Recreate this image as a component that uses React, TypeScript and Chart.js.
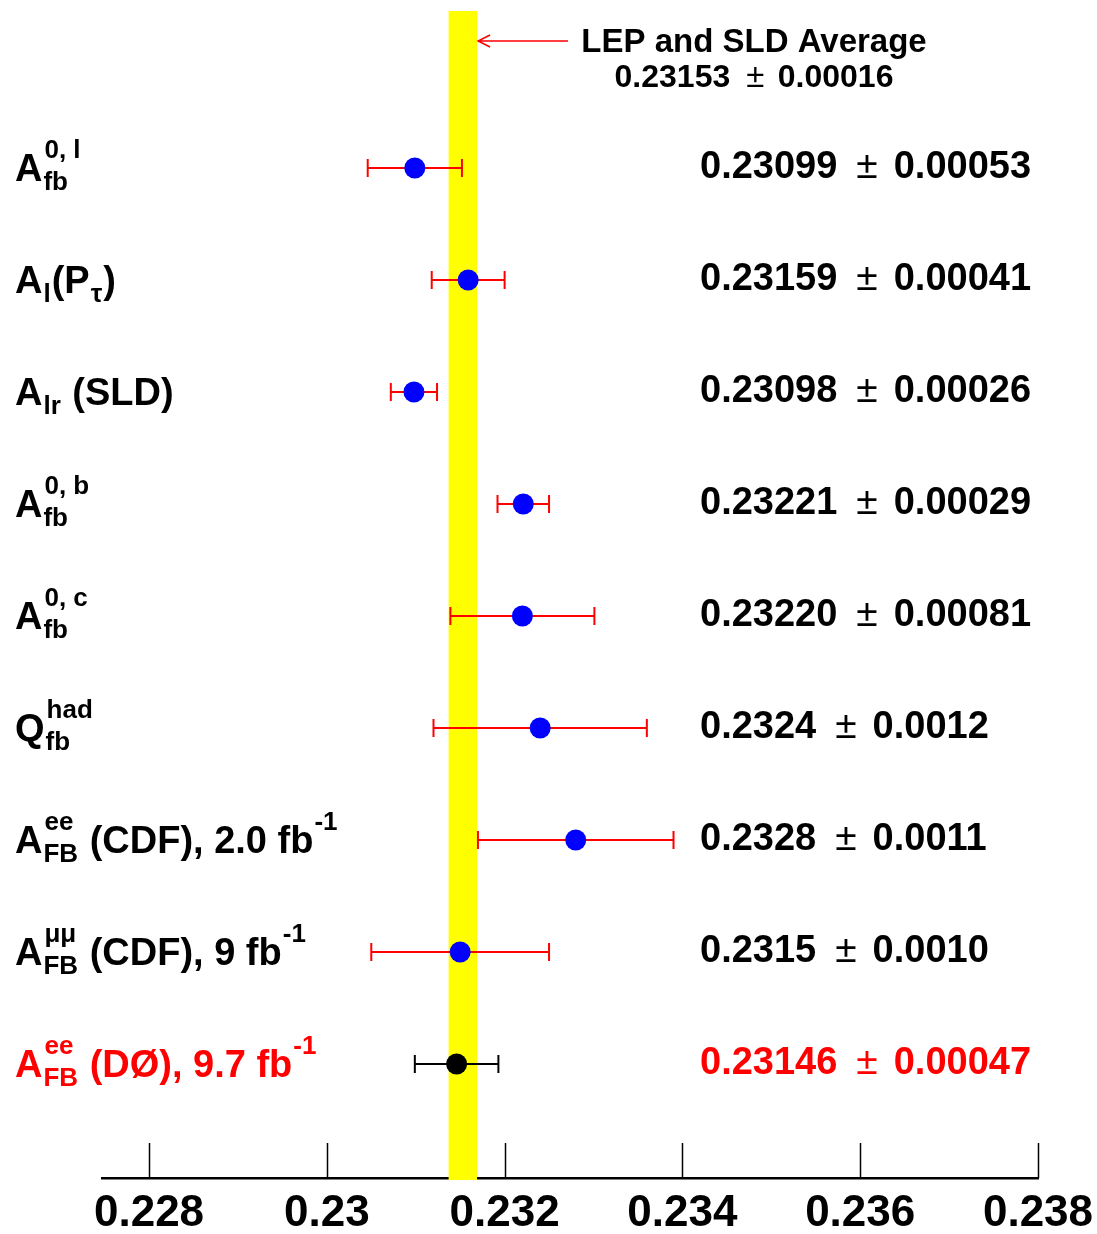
import React, { useEffect, useRef } from "react";
import { Chart, registerables } from "chart.js";

Chart.register(...registerables);

// ---------------- data ----------------
const MEASUREMENT_IDS = ["Afb0l", "Altau", "Alr", "Afb0b", "Afb0c", "Qfbhad", "AFBeeCDF", "AFBmumuCDF", "AFBeeD0"];
const CENTRAL_VALUES = [0.23099, 0.23159, 0.23098, 0.23221, 0.2322, 0.2324, 0.2328, 0.2315, 0.23146];
const ERROR_VALUES = [0.00053, 0.00041, 0.00026, 0.00029, 0.00081, 0.0012, 0.0011, 0.001, 0.00047];
const VALUE_TEXTS = ["0.23099", "0.23159", "0.23098", "0.23221", "0.23220", "0.2324", "0.2328", "0.2315", "0.23146"];
const ERROR_TEXTS = ["0.00053", "0.00041", "0.00026", "0.00029", "0.00081", "0.0012", "0.0011", "0.0010", "0.00047"];
const HIGHLIGHTED = [false, false, false, false, false, false, false, false, true];

type Seg = [string, "n" | "sub" | "sup"];
const LABEL_SEGMENTS: Seg[][] = [
  [["A", "n"], ["fb", "sub"], ["0, l", "sup"]],
  [["A", "n"], ["l", "sub"], ["(P", "n"], ["τ", "sub"], [")", "n"]],
  [["A", "n"], ["lr", "sub"], [" (SLD)", "n"]],
  [["A", "n"], ["fb", "sub"], ["0, b", "sup"]],
  [["A", "n"], ["fb", "sub"], ["0, c", "sup"]],
  [["Q", "n"], ["fb", "sub"], ["had", "sup"]],
  [["A", "n"], ["FB", "sub"], ["ee", "sup"], [" (CDF), 2.0 fb", "n"], ["-1", "sup"]],
  [["A", "n"], ["FB", "sub"], ["μμ", "sup"], [" (CDF), 9 fb", "n"], ["-1", "sup"]],
  [["A", "n"], ["FB", "sub"], ["ee", "sup"], [" (DØ), 9.7 fb", "n"], ["-1", "sup"]],
];

const AVERAGE_VALUE = 0.23153;
const AVERAGE_ERROR = 0.00016;
const AVERAGE_TITLE = "LEP and SLD Average";
const AVERAGE_VALUE_TEXT = "0.23153";
const AVERAGE_ERROR_TEXT = "0.00016";

const X_TICKS = [0.228, 0.23, 0.232, 0.234, 0.236, 0.238];
const X_TICK_LABELS = ["0.228", "0.23", "0.232", "0.234", "0.236", "0.238"];
const X_MIN = 0.227471;
const X_MAX = 0.238;

// ---------------- styling ----------------
const FONT = '"Liberation Sans", Arial, sans-serif';
const RED = "#ff0000";
const BLUE = "#0000ff";
const BLACK = "#000000";
const YELLOW = "#ffff00";

function drawRich(ctx: CanvasRenderingContext2D, segs: Seg[], x0: number, base: number, color: string) {
  const nFont = `bold 38px ${FONT}`;
  const subFont = `bold 26px ${FONT}`;
  const supFont = `bold 26px ${FONT}`;
  ctx.fillStyle = color;
  ctx.textAlign = "left";
  ctx.textBaseline = "alphabetic";
  let x = x0;
  for (let k = 0; k < segs.length; k++) {
    const [t, kind] = segs[k];
    if (kind === "n") {
      ctx.font = nFont;
      ctx.fillText(t, x, base);
      x += ctx.measureText(t).width;
    } else if (kind === "sub") {
      ctx.font = subFont;
      ctx.fillText(t, x + 1, base + 9);
      let w = ctx.measureText(t).width + 1;
      if (k + 1 < segs.length && segs[k + 1][1] === "sup") {
        const s = segs[k + 1][0];
        ctx.font = supFont;
        ctx.fillText(s, x + 2, base - 23);
        w = Math.max(w, ctx.measureText(s).width + 2);
        k++;
      }
      x += w + 1;
    } else {
      ctx.font = supFont;
      ctx.fillText(t, x + 1, base - 23);
      x += ctx.measureText(t).width + 2;
    }
  }
}

function drawValue(ctx: CanvasRenderingContext2D, v: string, e: string, x0: number, base: number, color: string, size: number, centered: boolean) {
  const bold = `bold ${size}px ${FONT}`;
  const norm = `${size + 1}px ${FONT}`;
  ctx.fillStyle = color;
  ctx.textBaseline = "alphabetic";
  ctx.textAlign = "left";
  ctx.font = bold;
  const wv = ctx.measureText(v).width;
  const we = ctx.measureText(e).width;
  ctx.font = norm;
  const wp = ctx.measureText("±").width;
  const g1 = size * 0.5;
  const g2 = size * 0.42;
  const total = wv + g1 + wp + g2 + we;
  let x = centered ? x0 - total / 2 : x0;
  ctx.font = bold;
  ctx.fillText(v, x, base);
  x += wv + g1;
  ctx.font = norm;
  ctx.fillText("±", x, base);
  x += wp + g2;
  ctx.font = bold;
  ctx.fillText(e, x, base);
}

const overlayPlugin = {
  id: "overlay",
  beforeDatasetsDraw(chart: any) {
    const { ctx, chartArea, scales } = chart;
    const x = scales.x;
    ctx.save();
    // upward tick marks
    ctx.strokeStyle = BLACK;
    ctx.lineWidth = 1.5;
    x.ticks.forEach((t: any) => {
      const px = Math.round(x.getPixelForValue(t.value)) + 0.5;
      ctx.beginPath();
      ctx.moveTo(px, chartArea.bottom);
      ctx.lineTo(px, chartArea.bottom - 35);
      ctx.stroke();
    });
    // average band
    const x0 = x.getPixelForValue(AVERAGE_VALUE - AVERAGE_ERROR);
    const x1 = x.getPixelForValue(AVERAGE_VALUE + AVERAGE_ERROR);
    ctx.fillStyle = YELLOW;
    ctx.fillRect(x0, chartArea.top, x1 - x0, chartArea.bottom - chartArea.top + 2);
    ctx.restore();
  },
  afterDraw(chart: any) {
    const { ctx, chartArea, scales } = chart;
    const x = scales.x;
    const y = scales.y;
    ctx.save();
    MEASUREMENT_IDS.forEach((_id, i) => {
      const py = y.getPixelForValue(i);
      const color = HIGHLIGHTED[i] ? RED : BLACK;
      drawRich(ctx, LABEL_SEGMENTS[i], 15, py + 13, color);
      drawValue(ctx, VALUE_TEXTS[i], ERROR_TEXTS[i], 700, py + 10, color, 38, false);
    });
    // average annotation
    const tipX = x.getPixelForValue(AVERAGE_VALUE + AVERAGE_ERROR) + 1;
    const ay = chartArea.top + 30;
    ctx.strokeStyle = RED;
    ctx.lineWidth = 1.5;
    ctx.beginPath();
    ctx.moveTo(tipX + 90, ay);
    ctx.lineTo(tipX, ay);
    ctx.moveTo(tipX + 12, ay - 6);
    ctx.lineTo(tipX, ay);
    ctx.lineTo(tipX + 12, ay + 6);
    ctx.stroke();
    ctx.fillStyle = BLACK;
    ctx.font = `bold 33px ${FONT}`;
    ctx.textAlign = "center";
    ctx.textBaseline = "alphabetic";
    ctx.fillText(AVERAGE_TITLE, 754, chartArea.top + 41);
    drawValue(ctx, AVERAGE_VALUE_TEXT, AVERAGE_ERROR_TEXT, 754, chartArea.top + 76, BLACK, 32, true);
    ctx.restore();
  },
};

export default function App() {
  const ref = useRef<HTMLCanvasElement>(null);
  useEffect(() => {
    document.body.style.margin = "0";
    const pointColors = HIGHLIGHTED.map((h) => (h ? BLACK : BLUE));
    const barDatasets = CENTRAL_VALUES.map((c, i) => {
      const col = HIGHLIGHTED[i] ? BLACK : RED;
      return {
        label: MEASUREMENT_IDS[i] + " error",
        data: [
          { x: c - ERROR_VALUES[i], y: i },
          { x: c + ERROR_VALUES[i], y: i },
        ],
        showLine: true,
        borderColor: col,
        borderWidth: 2,
        pointStyle: "line",
        rotation: 90,
        pointRadius: 9,
        pointBorderColor: col,
        pointBorderWidth: 2,
        pointBackgroundColor: col,
        order: 2,
      };
    });
    const chart = new Chart(ref.current as HTMLCanvasElement, {
      type: "scatter",
      data: {
        datasets: [
          {
            label: "measurements",
            data: CENTRAL_VALUES.map((c, i) => ({ x: c, y: i })),
            pointRadius: 10.5,
            pointBackgroundColor: pointColors,
            pointBorderColor: pointColors,
            pointBorderWidth: 0,
            order: 0,
          } as any,
          ...(barDatasets as any[]),
        ],
      },
      options: {
        animation: false,
        responsive: false,
        events: [],
        layout: { padding: { left: 102, right: 59, top: 11, bottom: 0 } },
        plugins: { legend: { display: false }, tooltip: { enabled: false } },
        scales: {
          x: {
            type: "linear",
            position: "bottom",
            min: X_MIN,
            max: X_MAX,
            afterBuildTicks: (scale: any) => {
              scale.ticks = X_TICKS.map((v) => ({ value: v }));
            },
            ticks: {
              autoSkip: false,
              maxRotation: 0,
              minRotation: 0,
              padding: -2,
              color: BLACK,
              font: { family: FONT, size: 44, weight: "bold", lineHeight: 1 },
              callback: (_v: any, idx: number) => X_TICK_LABELS[idx],
            },
            grid: {
              drawOnChartArea: false,
              drawTicks: true,
              tickLength: 16,
              color: "rgba(0,0,0,0)",
            },
            border: { display: true, color: BLACK, width: 2.5 },
          },
          y: {
            type: "linear",
            display: false,
            reverse: true,
            min: -1.402,
            max: 9.018,
          },
        },
      },
      plugins: [overlayPlugin],
    } as any);
    return () => chart.destroy();
  }, []);
  return <canvas ref={ref} width={1097} height={1234} style={{ display: "block" }} />;
}
